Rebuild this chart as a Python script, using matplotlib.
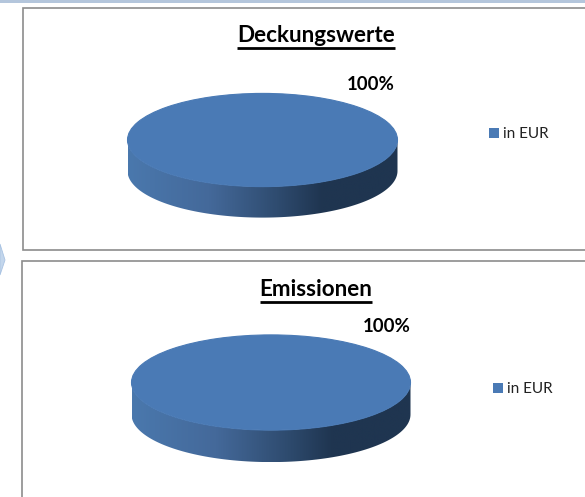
import matplotlib
matplotlib.use("Agg")
import matplotlib.pyplot as plt
from matplotlib.colors import LinearSegmentedColormap
from matplotlib.patches import PathPatch, Polygon, Rectangle
from matplotlib.path import Path
import numpy as np

plt.rcParams['font.family'] = ['Lato', 'DejaVu Sans']

titles = ["Deckungswerte", "Emissionen"]
series_name = "in EUR"
values_top = [100]
values_bottom = [100]

BLUE = '#4a7ab5'
side_cmap = LinearSegmentedColormap.from_list(
    "side", [(0, '#4a78ad'), (0.3, '#44699a'), (0.55, '#2f4c70'), (0.72, '#1f3550'), (1, '#1f3550')])

W, H = 585, 497
fig = plt.figure(figsize=(W / 100, H / 100), dpi=100)
bg = fig.add_axes([0, 0, 1, 1])
bg.set_xlim(0, W)
bg.set_ylim(H, 0)
bg.axis('off')


def draw_chart(values, title, box, cx, cy, rx, ry, depth, title_xy, pct_xy, leg_xy):
    # rahmen
    bg.add_patch(Rectangle((box[0], box[1]), box[2], box[3], fc='white', ec='#8c8c8c', lw=1.2))

    # seite der torte mit verlauf
    t = np.linspace(np.pi, 0, 100)
    xs = cx + rx * np.cos(t)
    up = cy + ry * np.sin(t)
    low = cy + depth + ry * np.sin(t)
    verts = list(zip(xs, low)) + list(zip(xs[::-1], up[::-1])) + [(xs[0], low[0])]
    codes = [Path.MOVETO] + [Path.LINETO] * (len(verts) - 2) + [Path.CLOSEPOLY]
    clip = PathPatch(Path(verts, codes), fc='none', ec='none')
    bg.add_patch(clip)
    grad = np.linspace(0, 1, 256).reshape(1, -1)
    im = bg.imshow(grad, cmap=side_cmap, aspect='auto',
                   extent=[cx - rx, cx + rx, cy + depth + ry, cy - ry], zorder=2)
    im.set_clip_path(clip)

    # deckel als pie, achse auf die ellipse gelegt
    pie_ax = fig.add_axes([(cx - rx) / W, 1 - (cy + ry) / H, 2 * rx / W, 2 * ry / H])
    wedges, _ = pie_ax.pie(values, colors=[BLUE], radius=1, startangle=90,
                           wedgeprops={'edgecolor': BLUE, 'linewidth': 0.8, 'clip_on': False})
    pie_ax.set_aspect('auto')
    pie_ax.set_xlim(-1, 1)
    pie_ax.set_ylim(-1, 1)
    pie_ax.patch.set_alpha(0)

    share = 100 * values[0] / sum(values)
    bg.text(pct_xy[0], pct_xy[1], f"{share:.0f}%", fontsize=13.4, fontweight='bold',
            ha='center', va='center', color='black', zorder=5)

    txt = bg.text(title_xy[0], title_xy[1], title, fontsize=16.2, fontweight='bold',
                  ha='center', va='center', color='black', zorder=5)
    fig.canvas.draw()
    ext = txt.get_window_extent()
    bg.plot([ext.x0, ext.x1], [title_xy[1] + 11.5, title_xy[1] + 11.5], color='black', lw=2,
            solid_capstyle='butt', zorder=5)

    # legende
    bg.add_patch(Rectangle((leg_xy[0], leg_xy[1] - 5), 10, 10, fc=BLUE, ec='none', zorder=5))
    bg.text(leg_xy[0] + 14, leg_xy[1] + 1, series_name, fontsize=11, ha='left', va='center',
            color='#222222', zorder=5)


draw_chart(values_top, titles[0], (22.5, 7.5, 600, 242.5), 262.5, 140, 135, 46.6, 31,
           (316, 36), (370.5, 85), (489, 133))
draw_chart(values_bottom, titles[1], (22, 260.5, 600, 260), 271, 382.5, 139.5, 47.6, 32,
           (316, 290), (386.5, 327), (493, 388))

# oben der balken und links der pfeil
bg.add_patch(Rectangle((0, 0), W, 3, fc='#b4c6dc', ec='none'))
bg.add_patch(Polygon([(0, 244), (5, 260), (0, 275)], closed=True, fc='#c3d6ec', ec='#a9c3e2', lw=0.6))

fig.savefig("out.png", dpi=100)
